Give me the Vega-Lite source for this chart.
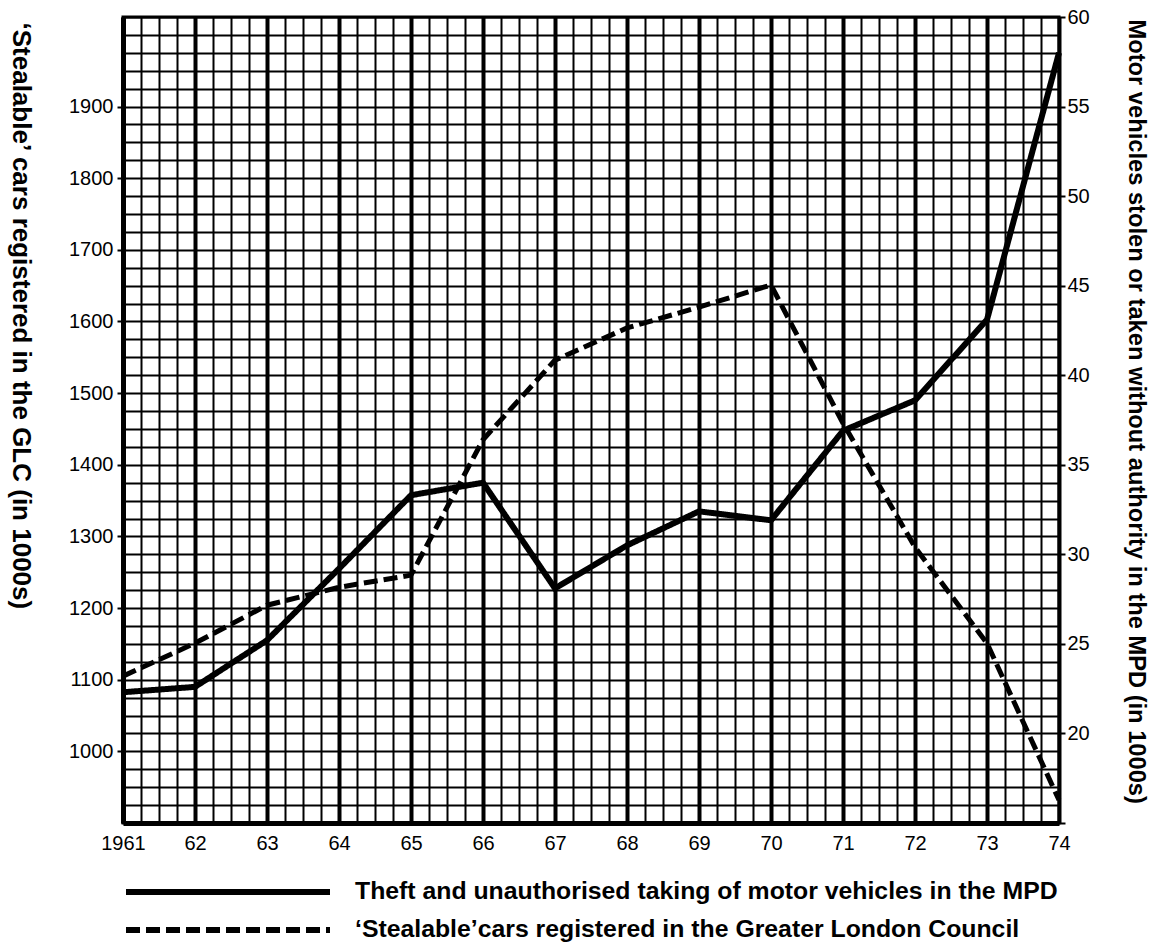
{
  "$schema": "https://vega.github.io/schema/vega-lite/v6.json",
  "autosize": {"type": "none"},
  "width": 936,
  "height": 806,
  "padding": {"left": 123, "top": 17, "right": 95, "bottom": 126},
  "background": "white",
  "config": {
    "view": {"stroke": "black", "strokeWidth": 3},
    "font": "Liberation Sans",
    "axis": {
      "labelFont": "Liberation Sans",
      "labelFontSize": 20,
      "labelColor": "black",
      "domainColor": "black",
      "tickColor": "black",
      "gridColor": "black",
      "gridOpacity": 1,
      "titleColor": "black",
      "titleFont": "Liberation Sans",
      "titleFontWeight": "bold"
    }
  },
  "data": {
    "values": [
      {"year": 1961, "stealable": 1105, "theft": 22.3},
      {"year": 1962, "stealable": 1151, "theft": 22.6},
      {"year": 1963, "stealable": 1204, "theft": 25.2},
      {"year": 1964, "stealable": 1229, "theft": 29.2},
      {"year": 1965, "stealable": 1246, "theft": 33.3},
      {"year": 1966, "stealable": 1435, "theft": 34.0},
      {"year": 1967, "stealable": 1546, "theft": 28.1},
      {"year": 1968, "stealable": 1591, "theft": 30.5},
      {"year": 1969, "stealable": 1620, "theft": 32.4},
      {"year": 1970, "stealable": 1651, "theft": 31.9},
      {"year": 1971, "stealable": 1458, "theft": 36.9},
      {"year": 1972, "stealable": 1285, "theft": 38.6},
      {"year": 1973, "stealable": 1151, "theft": 43.1},
      {"year": 1974, "stealable": 932, "theft": 58.0}
    ]
  },
  "encoding": {
    "x": {
      "field": "year",
      "type": "quantitative",
      "scale": {"domain": [1961, 1974], "nice": false, "zero": false},
      "axis": {
        "title": null,
        "values": [1961, 1961.25, 1961.5, 1961.75, 1962, 1962.25, 1962.5, 1962.75, 1963, 1963.25, 1963.5, 1963.75, 1964, 1964.25, 1964.5, 1964.75, 1965, 1965.25, 1965.5, 1965.75, 1966, 1966.25, 1966.5, 1966.75, 1967, 1967.25, 1967.5, 1967.75, 1968, 1968.25, 1968.5, 1968.75, 1969, 1969.25, 1969.5, 1969.75, 1970, 1970.25, 1970.5, 1970.75, 1971, 1971.25, 1971.5, 1971.75, 1972, 1972.25, 1972.5, 1972.75, 1973, 1973.25, 1973.5, 1973.75, 1974],
        "labelExpr": "datum.value == 1961 ? '1961' : (datum.value % 1 == 0 ? format(datum.value - 1900, 'd') : '')",
        "ticks": false,
        "labelPadding": 10,
        "domainWidth": 5,
        "grid": true,
        "gridWidth": {"condition": {"test": "datum.value % 1 == 0", "value": 4}, "value": 2},
        "labelFlush": false,
        "labelOverlap": false
      }
    }
  },
  "layer": [
    {
      "mark": {"type": "line", "color": "black", "strokeWidth": 5},
      "encoding": {
        "y": {
          "field": "stealable",
          "type": "quantitative",
          "scale": {"domain": [900, 2025], "nice": false, "zero": false},
          "axis": {
            "orient": "left",
            "title": "‘Stealable’ cars registered in the GLC (in 1000s)",
            "titleAngle": 90,
            "titleAlign": "left",
            "titleBaseline": "middle",
            "titleX": -103,
            "titleY": 5,
            "titleFontSize": 26,
            "values": [900, 925, 950, 975, 1000, 1025, 1050, 1075, 1100, 1125, 1150, 1175, 1200, 1225, 1250, 1275, 1300, 1325, 1350, 1375, 1400, 1425, 1450, 1475, 1500, 1525, 1550, 1575, 1600, 1625, 1650, 1675, 1700, 1725, 1750, 1775, 1800, 1825, 1850, 1875, 1900, 1925, 1950, 1975, 2000, 2025],
            "labelExpr": "datum.value % 100 == 0 && datum.value >= 1000 && datum.value <= 1900 ? format(datum.value, 'd') : ''",
            "tickOpacity": {"condition": {"test": "datum.value % 100 == 0 && datum.value >= 1000 && datum.value <= 1900", "value": 1}, "value": 0},
            "tickSize": 6,
            "tickWidth": 2,
            "labelPadding": 4,
            "domainWidth": 5,
            "grid": true,
            "gridWidth": 2,
            "labelOverlap": false,
            "labelFlush": false
          }
        },
        "strokeDash": {
          "datum": "‘Stealable’cars registered in the Greater London Council",
          "type": "nominal",
          "scale": {
            "domain": ["Theft and unauthorised taking of motor vehicles in the MPD", "‘Stealable’cars registered in the Greater London Council"],
            "range": [[1, 0], [14, 6]]
          },
          "legend": {
            "title": null,
            "orient": "none",
            "legendX": 0,
            "legendY": 863,
            "padding": 0,
            "symbolType": "stroke",
            "symbolSize": 41616,
            "symbolStrokeWidth": 6,
            "symbolStrokeColor": "black",
            "clipHeight": 24,
            "rowPadding": 13,
            "labelOffset": 22,
            "labelFont": "Liberation Sans",
            "labelFontWeight": "bold",
            "labelFontSize": 24.8,
            "labelColor": "black",
            "labelLimit": 1000
          }
        }
      }
    },
    {
      "mark": {"type": "line", "color": "black", "strokeWidth": 6},
      "encoding": {
        "y": {
          "field": "theft",
          "type": "quantitative",
          "scale": {"domain": [15, 60], "nice": false, "zero": false},
          "axis": {
            "orient": "right",
            "title": "Motor vehicles stolen or taken without authority in the MPD (in 1000s)",
            "titleAngle": 90,
            "titleAlign": "left",
            "titleBaseline": "middle",
            "titleX": 76,
            "titleY": 2,
            "titleFontSize": 23.7,
            "values": [15, 20, 25, 30, 35, 40, 45, 50, 55, 60],
            "labelExpr": "datum.value == 15 ? '' : format(datum.value, 'd')",
            "tickSize": 6,
            "tickWidth": 2,
            "labelPadding": 2,
            "domainWidth": 3,
            "grid": false,
            "labelOverlap": false,
            "labelFlush": false
          }
        },
        "strokeDash": {"datum": "Theft and unauthorised taking of motor vehicles in the MPD", "type": "nominal"}
      }
    }
  ],
  "resolve": {"scale": {"y": "independent"}}
}
